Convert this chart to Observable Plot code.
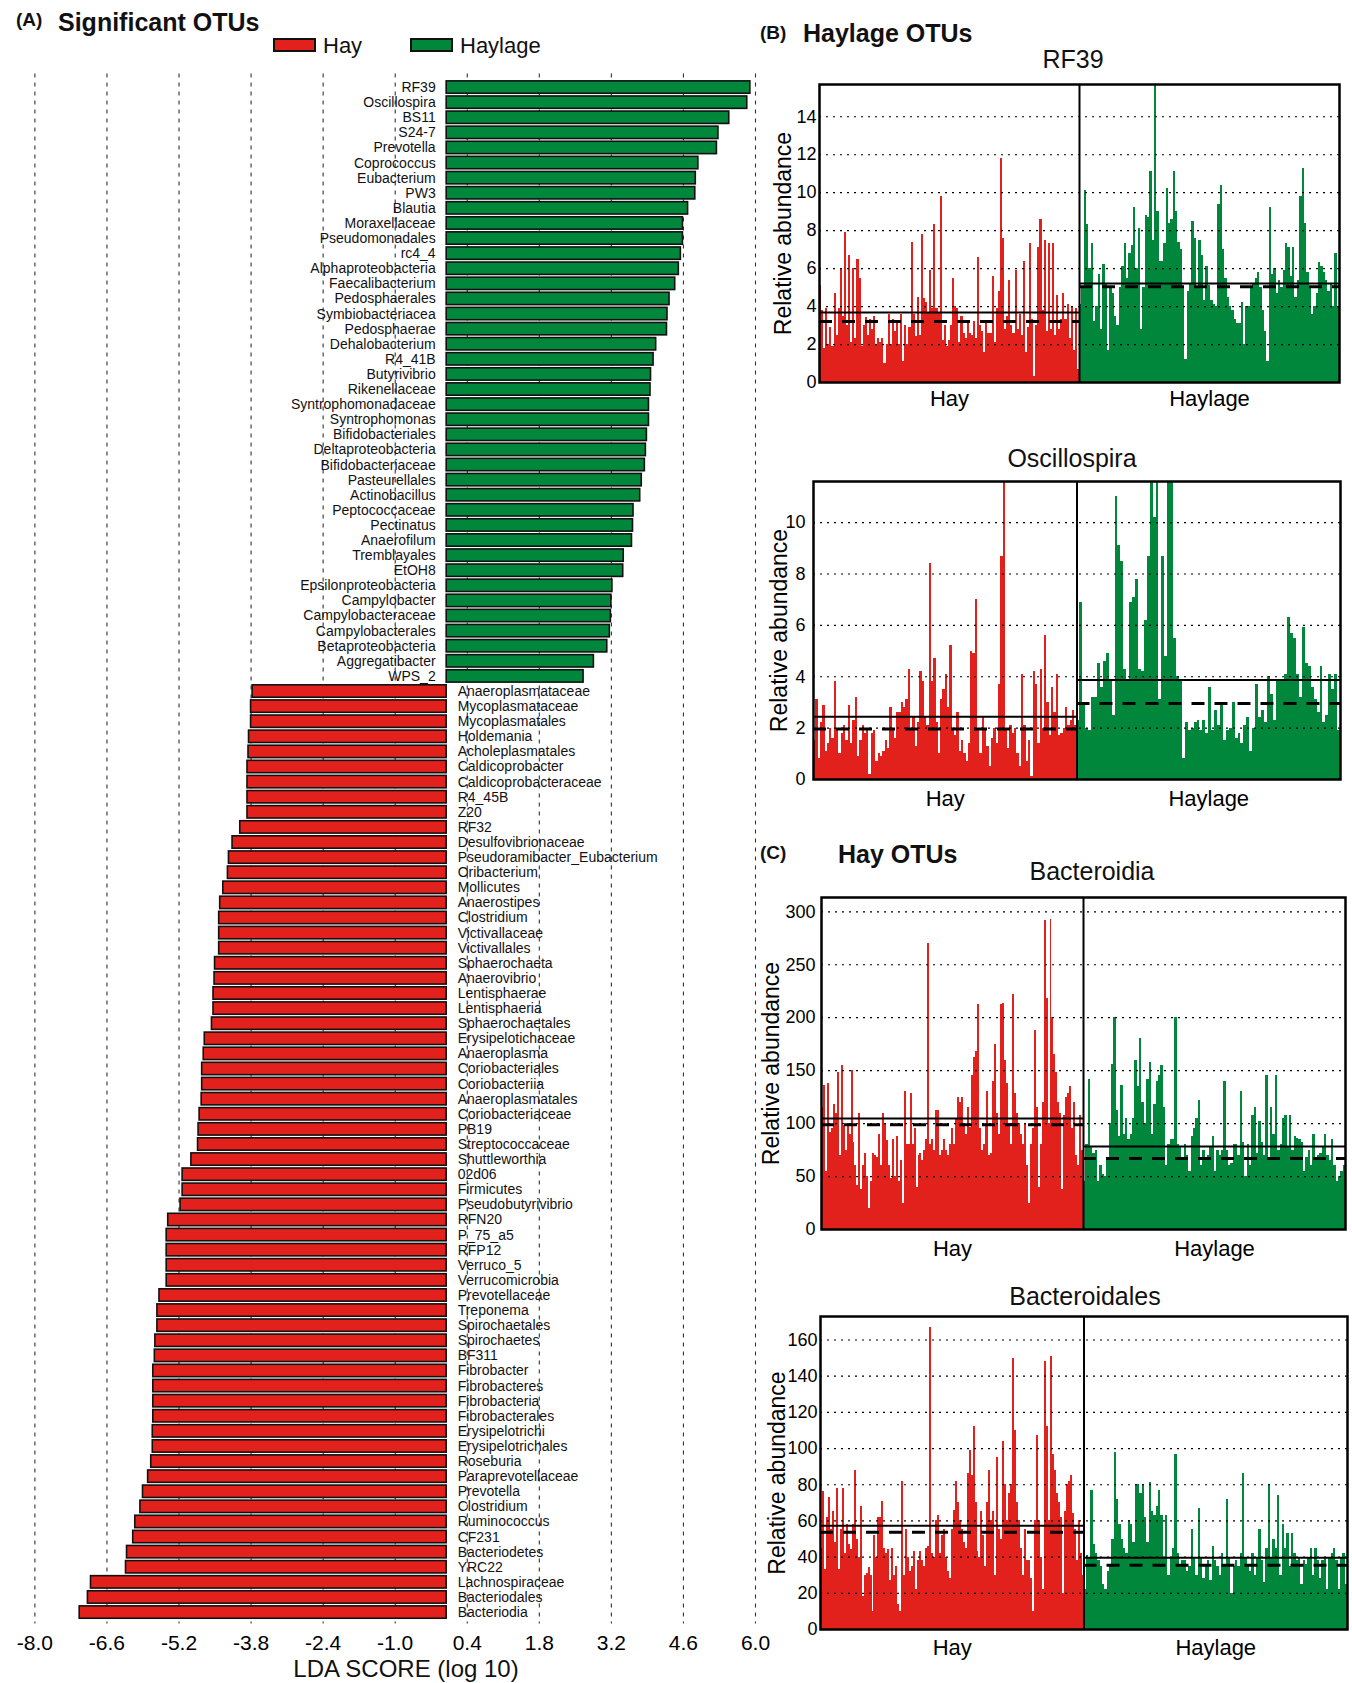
<!DOCTYPE html>
<html>
<head>
<meta charset="utf-8">
<script src="https://cdn.jsdelivr.net/npm/d3@7"></script>
<script src="https://cdn.jsdelivr.net/npm/@observablehq/plot@0.6"></script>
<style>
  body { margin: 0; background: #fff; }
  #page { position: relative; width: 1352px; height: 1683px; overflow: hidden; background: #fff;
          font-family: "Liberation Sans", Arial, Helvetica, sans-serif; }
</style>
</head>
<body>
<div id="page"></div>
<script>
// ---------- colours ----------
const HAY_RED = "#e2211c";
const HAYLAGE_GREEN = "#00873c";
const groups = ["Hay", "Haylage"];

// ---------- (A) LEfSe LDA scores ----------
const haylageTaxa = ["RF39", "Oscillospira", "BS11", "S24-7", "Prevotella", "Coprococcus", "Eubacterium", "PW3",
  "Blautia", "Moraxellaceae", "Pseudomonadales", "rc4_4", "Alphaproteobacteria", "Faecalibacterium",
  "Pedosphaerales", "Symbiobacteriacea", "Pedosphaerae", "Dehalobacterium", "R4_41B", "Butyrivibrio",
  "Rikenellaceae", "Syntrophomonadaceae", "Syntrophomonas", "Bifidobacteriales", "Deltaproteobacteria",
  "Bifidobacteriaceae", "Pasteurellales", "Actinobacillus", "Peptococcaceae", "Pectinatus", "Anaerofilum",
  "Tremblayales", "EtOH8", "Epsilonproteobacteria", "Campylobacter", "Campylobacteraceae",
  "Campylobacterales", "Betaproteobacteria", "Aggregatibacter", "WPS_2"];
const haylageLda = [5.90, 5.84, 5.49, 5.28, 5.25, 4.89, 4.84, 4.83, 4.69, 4.59, 4.59, 4.55, 4.51, 4.44,
  4.33, 4.29, 4.28, 4.07, 4.02, 3.97, 3.96, 3.93, 3.93, 3.89, 3.87, 3.85, 3.79, 3.76, 3.63, 3.62, 3.60,
  3.44, 3.43, 3.22, 3.20, 3.19, 3.17, 3.12, 2.86, 2.66];

const hayTaxa = ["Anaeroplasmataceae", "Mycoplasmataceae", "Mycoplasmatales", "Holdemania", "Acholeplasmatales",
  "Caldicoprobacter", "Caldicoprobacteraceae", "R4_45B", "Z20", "RF32", "Desulfovibrionaceae",
  "Pseudoramibacter_Eubacterium", "Oribacterium", "Mollicutes", "Anaerostipes", "Clostridium",
  "Victivallaceae", "Victivallales", "Sphaerochaeta", "Anaerovibrio", "Lentisphaerae", "Lentisphaeria",
  "Sphaerochaetales", "Erysipelotichaceae", "Anaeroplasma", "Coriobacteriales", "Coriobacteriia",
  "Anaeroplasmatales", "Coriobacteriaceae", "PB19", "Streptococcaceae", "Shuttleworthia", "02d06",
  "Firmicutes", "Pseudobutyrivibrio", "RFN20", "P_75_a5", "RFP12", "Verruco_5", "Verrucomicrobia",
  "Prevotellaceae", "Treponema", "Spirochaetales", "Spirochaetes", "BF311", "Fibrobacter", "Fibrobacteres",
  "Fibrobacteria", "Fibrobacterales", "Erysipelotrichi", "Erysipelotrichales", "Roseburia",
  "Paraprevotellaceae", "Prevotella", "Clostridium", "Ruminococcus", "CF231", "Bacteriodetes", "YRC22",
  "Lachnospiraceae", "Bacteriodales", "Bacteriodia"];
const hayLda = [-3.77, -3.80, -3.80, -3.84, -3.85, -3.87, -3.87, -3.87, -3.87, -4.01, -4.16, -4.23, -4.25,
  -4.34, -4.40, -4.42, -4.42, -4.42, -4.50, -4.51, -4.53, -4.53, -4.56, -4.70, -4.72, -4.75, -4.75, -4.76,
  -4.80, -4.82, -4.83, -4.96, -5.13, -5.13, -5.17, -5.41, -5.44, -5.44, -5.44, -5.44, -5.58, -5.62, -5.62,
  -5.66, -5.67, -5.70, -5.70, -5.70, -5.70, -5.71, -5.71, -5.74, -5.80, -5.90, -5.95, -6.05, -6.09, -6.21,
  -6.23, -6.91, -6.97, -7.13];

const ldaTicks = [-8.0, -6.6, -5.2, -3.8, -2.4, -1.0, 0.4, 1.8, 3.2, 4.6, 6.0];

// ---------- (B) Haylage OTUs: per-sample relative abundance ----------
const rf39Hay = [5.1, 3.8, 1.8, 3.9, 2.0, 2.9, 1.9, 4.7, 2.5, 3.9, 6.0, 3.5, 7.9, 3.0, 6.7, 2.1, 6.0, 2.3, 6.5,
  5.5, 1.9, 3.0, 3.4, 2.5, 3.3, 2.8, 3.5, 2.0, 2.3, 2.1, 2.3, 1.0, 2.0, 3.6, 2.0, 3.3, 2.7, 3.1, 2.0, 3.6,
  1.1, 3.0, 2.0, 2.9, 7.4, 3.6, 2.4, 4.5, 2.5, 7.8, 4.4, 4.2, 3.7, 5.9, 3.9, 8.3, 3.9, 3.7, 9.8, 2.2, 3.0,
  1.9, 2.2, 3.0, 5.5, 4.0, 3.9, 2.1, 3.5, 2.6, 2.3, 3.1, 2.6, 2.5, 3.2, 2.3, 6.6, 3.0, 2.7, 1.6, 3.2, 2.6,
  2.6, 5.6, 2.1, 3.9, 4.8, 11.8, 7.6, 2.8, 3.5, 5.4, 3.0, 2.6, 5.9, 2.8, 3.6, 2.5, 6.4, 1.6, 2.9, 7.3, 3.3,
  0.3, 3.0, 7.1, 8.6, 3.8, 7.5, 2.7, 7.3, 2.8, 7.3, 2.5, 4.6, 2.8, 3.3, 4.7, 3.3, 4.1, 2.3, 4.0, 1.7, 3.9, 0.7];
const rf39Haylage = [4.1, 5.0, 10.1, 8.3, 6.0, 7.3, 3.2, 4.0, 5.7, 2.8, 6.2, 5.2, 1.7, 5.0, 4.7, 3.5, 3.0, 5.0,
  6.1, 7.3, 5.5, 6.8, 7.2, 9.2, 6.0, 8.1, 2.8, 5.0, 8.8, 8.7, 11.1, 7.5, 15.7, 9.0, 6.4, 6.4, 7.3, 10.2, 8.4,
  8.6, 11.1, 9.0, 7.4, 7.0, 5.0, 1.2, 4.8, 5.2, 8.5, 7.6, 5.0, 7.5, 6.7, 4.3, 6.1, 5.1, 4.3, 4.1, 4.0, 9.4,
  10.4, 7.0, 5.5, 4.5, 4.0, 3.8, 3.3, 3.1, 3.1, 4.2, 2.0, 4.0, 4.0, 5.0, 5.2, 5.5, 5.8, 5.0, 3.8, 2.7, 1.1,
  9.2, 5.7, 6.0, 4.7, 5.4, 5.0, 5.9, 7.3, 7.1, 5.6, 7.1, 4.5, 5.4, 9.8, 11.3, 8.4, 5.8, 5.0, 3.6, 4.0, 4.7,
  6.3, 6.1, 5.8, 5.4, 4.8, 5.2, 4.0, 6.8, 4.0];
const rf39Mean = [3.69, 5.22];
const rf39Median = [3.22, 5.04];
const rf39Ticks = [0, 2, 4, 6, 8, 10, 12, 14];

const oscHay = [1.5, 3.1, 0.8, 2.2, 2.9, 1.1, 1.4, 2.0, 1.6, 3.8, 2.0, 1.0, 1.8, 2.1, 1.5, 2.9, 1.4, 2.3, 3.2,
  0.9, 1.5, 2.1, 1.8, 1.9, 0.2, 1.8, 1.9, 0.7, 1.0, 0.9, 1.1, 1.5, 1.2, 2.8, 2.0, 1.6, 2.6, 2.6, 3.0, 2.8,
  3.1, 4.3, 2.0, 2.4, 1.3, 2.2, 4.2, 3.8, 2.4, 2.1, 8.4, 3.8, 4.7, 2.2, 1.0, 3.1, 3.5, 4.1, 2.8, 5.2, 2.0,
  1.7, 2.6, 1.1, 1.5, 1.0, 0.7, 1.4, 5.0, 4.9, 7.0, 1.9, 1.0, 2.4, 2.0, 1.3, 0.5, 1.6, 2.0, 1.4, 3.7, 8.7,
  11.6, 1.9, 1.2, 2.1, 1.8, 2.0, 1.0, 0.5, 4.1, 2.1, 0.7, 1.5, 0.1, 4.2, 3.7, 1.4, 4.3, 2.0, 5.6, 3.0, 1.7,
  3.6, 2.6, 4.1, 1.7, 1.8, 2.0, 2.8, 2.1, 2.3, 2.7, 2.1];
const oscHaylage = [2.3, 6.9, 3.0, 2.0, 1.9, 3.2, 3.2, 4.5, 3.6, 4.6, 4.9, 3.9, 2.5, 11.0, 9.1, 8.5, 4.3, 3.8,
  6.9, 7.1, 7.8, 4.3, 4.2, 6.2, 8.7, 11.6, 10.2, 11.6, 3.1, 8.7, 4.8, 11.6, 11.6, 5.5, 4.0, 3.8, 0.8, 2.2,
  1.9, 2.0, 2.2, 2.3, 1.9, 2.3, 1.8, 3.6, 1.9, 2.7, 2.1, 2.9, 1.5, 1.9, 2.0, 3.0, 1.6, 1.8, 1.4, 2.1, 2.4,
  1.1, 2.0, 3.7, 2.4, 2.7, 2.2, 4.0, 3.3, 2.3, 3.8, 3.8, 3.9, 4.1, 6.3, 5.7, 5.5, 4.1, 3.2, 5.9, 4.5, 4.4,
  3.6, 3.1, 2.6, 4.4, 2.2, 2.5, 4.1, 3.5, 4.1, 1.9];
const oscMean = [2.44, 3.87];
const oscMedian = [1.97, 2.96];
const oscTicks = [0, 2, 4, 6, 8, 10];

// ---------- (C) Hay OTUs ----------
const bactHay = [115, 136, 55, 138, 92, 95, 118, 110, 148, 70, 155, 98, 75, 100, 90, 150, 82, 60, 42, 110, 38,
  60, 72, 50, 20, 45, 72, 70, 68, 90, 60, 110, 100, 84, 60, 48, 85, 50, 88, 45, 65, 25, 130, 80, 80, 128, 80,
  95, 40, 70, 72, 65, 75, 85, 270, 80, 85, 75, 112, 112, 70, 75, 85, 75, 70, 80, 95, 80, 105, 125, 120, 125,
  100, 90, 115, 96, 145, 162, 168, 212, 95, 75, 80, 100, 130, 70, 72, 140, 175, 110, 90, 212, 213, 160, 138,
  100, 80, 222, 128, 110, 100, 90, 80, 100, 60, 25, 80, 95, 188, 115, 40, 80, 120, 292, 218, 100, 293, 200,
  165, 148, 120, 110, 38, 108, 125, 128, 135, 95, 120, 70, 60, 108, 75];
const bactHaylage = [45, 80, 142, 78, 72, 75, 45, 60, 52, 50, 65, 100, 156, 200, 112, 88, 136, 90, 105, 85, 90,
  105, 160, 135, 180, 120, 100, 142, 158, 90, 118, 140, 145, 155, 115, 60, 80, 85, 85, 200, 80, 78, 65, 80,
  70, 55, 88, 95, 105, 122, 60, 75, 65, 70, 78, 88, 55, 75, 70, 75, 140, 75, 60, 62, 80, 80, 70, 130, 82, 50,
  80, 60, 108, 115, 72, 102, 82, 70, 145, 65, 115, 90, 145, 75, 80, 105, 108, 78, 108, 75, 88, 86, 85, 82, 55,
  68, 75, 60, 90, 65, 70, 72, 78, 90, 70, 65, 85, 60, 45, 50, 55, 60];
const bactMean = [104.8, 78.4];
const bactMedian = [98.8, 67.0];
const bactTicks = [0, 50, 100, 150, 200, 250, 300];

const bactalesHay = [45, 76, 33, 62, 73, 55, 65, 48, 78, 33, 55, 78, 42, 58, 47, 44, 58, 88, 50, 40, 68, 18, 30,
  31, 34, 30, 10, 52, 40, 62, 62, 71, 45, 42, 44, 27, 45, 30, 35, 14, 10, 82, 30, 55, 40, 32, 35, 43, 22, 38,
  43, 38, 35, 45, 46, 167, 42, 40, 60, 63, 42, 52, 55, 40, 32, 28, 55, 66, 82, 70, 60, 55, 48, 45, 86, 99, 85,
  112, 70, 43, 40, 65, 52, 35, 70, 88, 60, 65, 30, 95, 55, 50, 104, 80, 60, 75, 80, 150, 110, 70, 60, 45, 30,
  55, 38, 38, 28, 10, 60, 107, 60, 40, 22, 148, 112, 60, 151, 97, 88, 75, 70, 62, 20, 65, 80, 82, 85, 64, 55,
  38, 60, 42, 30];
const bactalesHaylage = [22, 41, 40, 77, 47, 42, 38, 35, 25, 22, 32, 35, 50, 98, 72, 58, 50, 45, 42, 60, 58, 48,
  80, 80, 75, 80, 62, 48, 81, 65, 63, 68, 77, 63, 40, 63, 30, 40, 45, 97, 42, 35, 38, 38, 32, 35, 55, 40, 30,
  67, 40, 28, 35, 38, 27, 46, 38, 35, 30, 42, 35, 72, 40, 20, 35, 38, 35, 42, 86, 40, 35, 32, 42, 30, 40, 55,
  38, 26, 45, 80, 40, 50, 45, 74, 30, 58, 45, 53, 35, 53, 42, 38, 40, 25, 38, 36, 40, 45, 30, 45, 38, 28, 38,
  40, 22, 40, 42, 45, 38, 22, 40, 42, 25];
const bactalesMean = [57.3, 39.6];
const bactalesMedian = [53.8, 35.5];
const bactalesTicks = [0, 20, 40, 60, 80, 100, 120, 140, 160];

// ---------- helpers ----------
const page = document.getElementById("page");
const FONT = '"Liberation Sans", Arial, Helvetica, sans-serif';
const baseStyle = {fontFamily: FONT, color: "#000", background: "transparent", overflow: "visible"};

function mount(node, left, top) {
  node.style.position = "absolute";
  node.style.left = left + "px";
  node.style.top = top + "px";
  page.appendChild(node);
}

// ---------- panel A: diverging LDA bar chart ----------
const ldaRows = [
  ...haylageTaxa.map((taxon, i) => ({taxon, score: haylageLda[i], group: "Haylage"})),
  ...hayTaxa.map((taxon, i) => ({taxon, score: hayLda[i], group: "Hay"}))
].map((d, rank) => ({...d, rank}));

const panelA = Plot.plot({
  width: 770,
  height: 1683,
  marginTop: 79.5,
  marginBottom: 63.4,
  marginLeft: 34.4,
  marginRight: 15,
  style: {...baseStyle, fontSize: "14px"},
  x: {domain: [-8, 6]},
  y: {type: "band", domain: ldaRows.map(d => d.rank), paddingInner: 0.18, paddingOuter: 0.09, round: false, axis: null},
  color: {domain: groups, range: [HAY_RED, HAYLAGE_GREEN]},
  marks: [
    Plot.ruleX(ldaTicks, {x: d => d, stroke: "#333", strokeWidth: 1.1, strokeDasharray: "4,5", insetTop: -6, insetBottom: -4}),
    Plot.barX(ldaRows, {x: "score", y: "rank", fill: "group", stroke: "#111", strokeWidth: 1.6}),
    Plot.text(ldaRows.filter(d => d.score > 0), {x: () => 0, y: "rank", text: "taxon", textAnchor: "end", dx: -11, fontSize: 14, fill: "#111"}),
    Plot.text(ldaRows.filter(d => d.score < 0), {x: () => 0, y: "rank", text: "taxon", textAnchor: "start", dx: 11, fontSize: 14, fill: "#111"}),
    Plot.axisX({ticks: ldaTicks, tickFormat: d => d.toFixed(1), tickSize: 0, tickPadding: 15, fontSize: 21, label: null})
  ]
});
mount(panelA, 0, 0);

// ---------- panels B and C: per-sample abundance by diet ----------
function abundancePanel(cfg) {
  const samples = [cfg.hay, cfg.haylage].flatMap((values, g) =>
    values.map((v, i) => ({group: groups[g], v, start: g + i / values.length, end: g + (i + 1) / values.length})));
  const summary = groups.map((group, k) => ({group, start: k, end: k + 1, mean: cfg.mean[k], median: cfg.median[k]}));
  const [x0, y0, x1, y1] = cfg.frame;
  const left = 740, padTop = 24, padBottom = 42;
  const plot = Plot.plot({
    width: 1352 - left,
    height: (y1 - y0) + padTop + padBottom,
    marginLeft: x0 - left,
    marginRight: 1352 - x1,
    marginTop: padTop,
    marginBottom: padBottom,
    style: {...baseStyle, fontSize: "18px"},
    x: {domain: [0, groups.length]},
    y: {domain: [0, cfg.yMax]},
    color: {domain: groups, range: [HAY_RED, HAYLAGE_GREEN]},
    marks: [
      Plot.rectY(samples, {x1: "start", x2: "end", y1: () => 0, y2: "v", fill: "group", shapeRendering: "crispEdges", clip: true}),
      Plot.ruleY(cfg.ticks.filter(t => t > 0), {y: d => d, stroke: "#000", strokeWidth: 1.2, strokeDasharray: "2,5"}),
      Plot.ruleY(summary, {y: "mean", x1: "start", x2: "end", stroke: "#000", strokeWidth: 2}),
      Plot.ruleY(summary, {y: "median", x1: "start", x2: "end", stroke: "#000", strokeWidth: 3, strokeDasharray: "13,10"}),
      Plot.ruleX([1], {x: d => d, stroke: "#000", strokeWidth: 2}),
      Plot.frame({stroke: "#000", strokeWidth: 2.5}),
      Plot.axisY({ticks: cfg.ticks, tickSize: 0, tickPadding: cfg.tickPadding, fontSize: 18, label: null}),
      Plot.axisX({ticks: groups.map((g, k) => k + 0.5), tickFormat: d => groups[Math.floor(d)], tickSize: 0,
        tickPadding: cfg.groupPadding, fontSize: 22, label: null}),
      Plot.text(["Relative abundance"], {text: d => d, frameAnchor: "left", textAnchor: "middle", rotate: -90,
        dx: cfg.labelDx, fontSize: 23})
    ]
  });
  mount(plot, left, y0 - padTop);
}

abundancePanel({hay: rf39Hay, haylage: rf39Haylage, mean: rf39Mean, median: rf39Median, yMax: 15.7, ticks: rf39Ticks,
  frame: [819, 84, 1339, 382], tickPadding: 3, labelDx: -36, groupPadding: 8});
abundancePanel({hay: oscHay, haylage: oscHaylage, mean: oscMean, median: oscMedian, yMax: 11.6, ticks: oscTicks,
  frame: [813, 481, 1340, 779], tickPadding: 8, labelDx: -34, groupPadding: 11});
abundancePanel({hay: bactHay, haylage: bactHaylage, mean: bactMean, median: bactMedian, yMax: 313.5, ticks: bactTicks,
  frame: [821, 897, 1345, 1229], tickPadding: 6, labelDx: -50, groupPadding: 11});
abundancePanel({hay: bactalesHay, haylage: bactalesHaylage, mean: bactalesMean, median: bactalesMedian, yMax: 173,
  ticks: bactalesTicks, frame: [820, 1316, 1347, 1629], tickPadding: 3, labelDx: -43, groupPadding: 10});

// ---------- headings, panel titles and legend ----------
const overlay = d3.create("svg")
  .attr("width", 1352).attr("height", 1683)
  .style("position", "absolute").style("left", "0px").style("top", "0px")
  .style("pointer-events", "none")
  .attr("font-family", FONT);

const headings = [
  {text: "(A)", x: 16, y: 26, size: 19, weight: "bold"},
  {text: "Significant OTUs", x: 58, y: 31, size: 25, weight: "bold"},
  {text: "(B)", x: 760, y: 39, size: 19, weight: "bold"},
  {text: "Haylage OTUs", x: 803, y: 41.5, size: 25, weight: "bold"},
  {text: "(C)", x: 760, y: 859, size: 19, weight: "bold"},
  {text: "Hay OTUs", x: 838, y: 862.5, size: 25, weight: "bold"},
  {text: "RF39", x: 1073, y: 68, size: 25, anchor: "middle"},
  {text: "Oscillospira", x: 1072, y: 467, size: 25, anchor: "middle"},
  {text: "Bacteroidia", x: 1092, y: 880, size: 25, anchor: "middle"},
  {text: "Bacteroidales", x: 1085, y: 1305, size: 25, anchor: "middle"},
  {text: "LDA SCORE (log 10)", x: 406, y: 1677, size: 24, anchor: "middle"}
];
overlay.selectAll("text.heading").data(headings).join("text")
  .attr("class", "heading")
  .attr("x", d => d.x).attr("y", d => d.y)
  .attr("font-size", d => d.size)
  .attr("font-weight", d => d.weight || "normal")
  .attr("text-anchor", d => d.anchor || "start")
  .attr("fill", "#111")
  .text(d => d.text);

const legend = overlay.append("g").selectAll("g").data(groups).join("g")
  .attr("transform", (d, i) => `translate(${i ? 411 : 274},39)`);
legend.append("rect").attr("width", 41).attr("height", 12)
  .attr("fill", (d, i) => [HAY_RED, HAYLAGE_GREEN][i]).attr("stroke", "#111").attr("stroke-width", 2);
legend.append("text").attr("x", 49).attr("y", 14).attr("font-size", 22).attr("fill", "#111").text(d => d);

page.appendChild(overlay.node());
</script>
</body>
</html>
